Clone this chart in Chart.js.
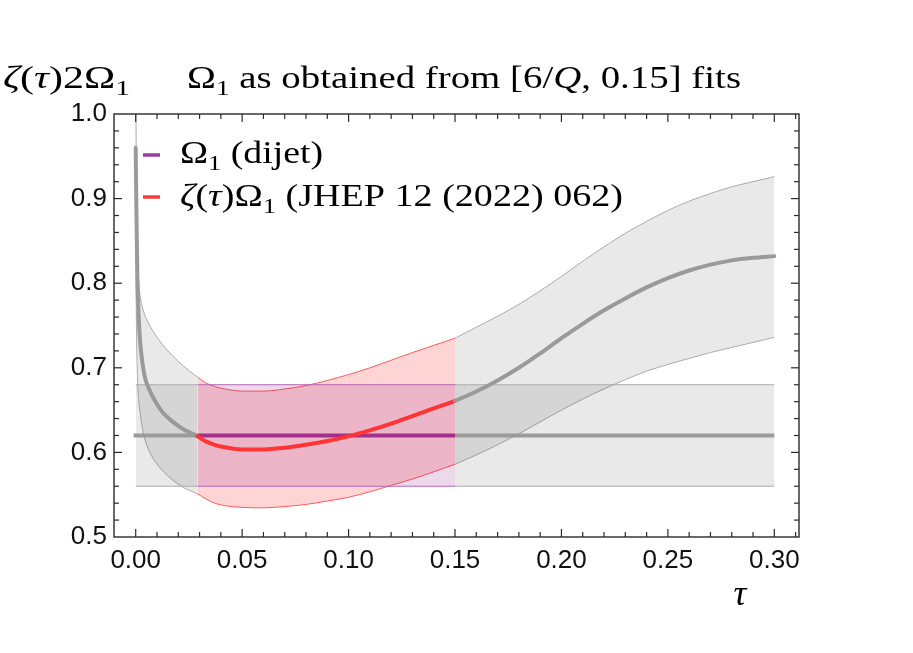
<!DOCTYPE html>
<html>
<head>
<meta charset="utf-8">
<script src="https://cdn.jsdelivr.net/npm/chart.js@4.4.1/dist/chart.umd.min.js"></script>
<style>
  html, body { margin: 0; padding: 0; background: #fff; }
</style>
</head>
<body>
<canvas id="chart" width="913" height="653"></canvas>
<script>
// axis ticks
const xTickVals = [0, 0.05, 0.10, 0.15, 0.20, 0.25, 0.30];
const yTickVals = [0.5, 0.6, 0.7, 0.8, 0.9, 1.0];

// zeta(tau) 2 Omega_1, small tau (before fit range)
const tauEarly = [0, 0.0003, 0.0008, 0.0015, 0.0022, 0.0032, 0.0045, 0.007, 0.0095, 0.0124, 0.017, 0.022];
const midEarly = [0.96, 0.89, 0.805, 0.755, 0.727, 0.705, 0.687, 0.671, 0.659, 0.648, 0.637, 0.628];
const upEarly  = [1.08, 0.92, 0.845, 0.799, 0.783, 0.771, 0.761, 0.748, 0.738, 0.728, 0.715, 0.703];
const loEarly  = [0.85, 0.76, 0.69, 0.66, 0.645, 0.628, 0.614, 0.598, 0.588, 0.579, 0.568, 0.559];

// fit range [6/Q, 0.15]
const tauFit = [0.029, 0.033, 0.037, 0.042, 0.05, 0.06, 0.07, 0.08, 0.09, 0.10, 0.11, 0.12, 0.13, 0.14, 0.15];
const midFit = [0.619, 0.613, 0.609, 0.606, 0.6035, 0.6035, 0.6055, 0.609, 0.6135, 0.619, 0.626, 0.634, 0.643, 0.652, 0.661];
const upFit  = [0.689, 0.682, 0.678, 0.675, 0.6725, 0.6725, 0.675, 0.679, 0.685, 0.692, 0.700, 0.709, 0.718, 0.7265, 0.735];
const loFit  = [0.551, 0.545, 0.540, 0.537, 0.535, 0.5345, 0.536, 0.5385, 0.5425, 0.547, 0.5535, 0.561, 0.5685, 0.577, 0.586];

// after fit range
const tauLate = [0.16, 0.17, 0.18, 0.19, 0.20, 0.21, 0.22, 0.23, 0.24, 0.25, 0.26, 0.27, 0.28, 0.29, 0.30];
const midLate = [0.672, 0.685, 0.700, 0.717, 0.735, 0.752, 0.768, 0.782, 0.795, 0.806, 0.815, 0.822, 0.827, 0.830, 0.832];
const upLate  = [0.748, 0.761, 0.775, 0.791, 0.808, 0.826, 0.843, 0.859, 0.873, 0.886, 0.897, 0.906, 0.914, 0.920, 0.926];
const loLate  = [0.597, 0.609, 0.622, 0.636, 0.650, 0.663, 0.675, 0.686, 0.696, 0.704, 0.711, 0.718, 0.724, 0.730, 0.736];

// Omega_1 (dijet)
const omega1 = 0.62;
const omega1Lo = 0.56;
const omega1Hi = 0.68;
const omegaTau = [-0.001, 0.029, 0.15, 0.30];

const fitLo = tauFit[0], fitHi = tauFit[tauFit.length - 1];
const GRAY_FILL = "rgba(0,0,0,0.085)";
const GRAY_EDGE = "#ababab";

const pts = (xs, ys) => xs.map((x, i) => ({ x, y: ys[i] }));
const inFit = (c) => c.p0.parsed.x >= fitLo - 1e-9 && c.p1.parsed.x <= fitHi + 1e-9;

function edge(data, color, order, extra) {
    return Object.assign({ data, borderColor: color, borderWidth: 1, pointRadius: 0, fill: false,
        cubicInterpolationMode: "monotone", order, clip: 0 }, extra || {});
}

const earlyT = tauEarly.concat([fitLo]);
const lateT = [fitHi].concat(tauLate);

const datasets = [
    // zeta band, outside the fit range
    edge(pts(earlyT, upEarly.concat([upFit[0]])), GRAY_EDGE, 100, { fill: "+1", backgroundColor: GRAY_FILL }),
    edge(pts(earlyT, loEarly.concat([loFit[0]])), GRAY_EDGE, 99),
    edge(pts(lateT, [upFit[upFit.length - 1]].concat(upLate)), GRAY_EDGE, 98, { fill: "+1", backgroundColor: GRAY_FILL }),
    edge(pts(lateT, [loFit[loFit.length - 1]].concat(loLate)), GRAY_EDGE, 97),
    // zeta band, fit range
    edge(pts(tauFit, upFit), "#ff5a5a", 90, { fill: "+1", backgroundColor: "rgba(255,0,0,0.17)" }),
    edge(pts(tauFit, loFit), "#ff5a5a", 89),
    // Omega_1 band
    edge(pts([0, fitLo], [omega1Hi, omega1Hi]), GRAY_EDGE, 80, { fill: { value: omega1Lo }, backgroundColor: GRAY_FILL }),
    edge(pts([0, fitLo], [omega1Lo, omega1Lo]), GRAY_EDGE, 79),
    edge(pts([fitHi, 0.30], [omega1Hi, omega1Hi]), GRAY_EDGE, 78, { fill: { value: omega1Lo }, backgroundColor: GRAY_FILL }),
    edge(pts([fitHi, 0.30], [omega1Lo, omega1Lo]), GRAY_EDGE, 77),
    edge(pts([fitLo, fitHi], [omega1Hi, omega1Hi]), "#b565b5", 76, { fill: { value: omega1Lo }, backgroundColor: "rgba(128,0,128,0.15)" }),
    edge(pts([fitLo, fitHi], [omega1Lo, omega1Lo]), "#b565b5", 75),
    // Omega_1 central line
    edge(pts(omegaTau, omegaTau.map(() => omega1)), "#9a9a9a", 60, {
        borderWidth: 4, segment: { borderColor: (c) => (inFit(c) ? "#a3308a" : "#9a9a9a") },
    }),
    // zeta(tau) central curve
    edge(pts(tauEarly.concat(tauFit, tauLate), midEarly.concat(midFit, midLate)), "#9a9a9a", 50, {
        borderWidth: 4, borderCapStyle: "round", segment: { borderColor: (c) => (inFit(c) ? "#ff3535" : "#9a9a9a") },
    }),
];

function drawRich(ctx, parts, x, y, size, width) {
    const font = (st) => `${st === "i" ? "italic " : ""}${st === "sub" ? size * 0.7 : size}px "Liberation Serif"`;
    let total = 0;
    for (const [t, st] of parts) { ctx.font = font(st); total += ctx.measureText(t).width; }
    ctx.save();
    ctx.translate(x, y);
    if (width) ctx.scale(width / total, 1);
    let cx = 0;
    for (const [t, st] of parts) {
        ctx.font = font(st);
        ctx.fillText(t, cx, st === "sub" ? size * 0.22 : 0);
        cx += ctx.measureText(t).width;
    }
    ctx.restore();
}

const decor = {
    id: "decor",
    afterDraw(chart) {
        const { ctx, chartArea: a, scales } = chart;
        const x = scales.x, y = scales.y;
        ctx.save();
        ctx.strokeStyle = "#2a2a2a";
        ctx.lineWidth = 1.4;
        ctx.strokeRect(a.left, a.top, a.right - a.left, a.bottom - a.top);
        ctx.lineWidth = 1.2;
        const tick = (px, py, dx, dy) => { ctx.beginPath(); ctx.moveTo(px, py); ctx.lineTo(px + dx, py + dy); ctx.stroke(); };
        for (let i = -1; i <= 32; i++) {
            const px = x.getPixelForValue(i / 100);
            if (px < a.left + 2 || px > a.right - 2) continue;
            const len = i % 5 === 0 ? 8 : 5;
            tick(px, a.bottom, 0, -len);
            tick(px, a.top, 0, len);
        }
        for (let i = 25; i <= 50; i++) {
            const py = y.getPixelForValue(i / 50);
            if (py < a.top + 2 || py > a.bottom - 2) continue;
            const len = i % 5 === 0 ? 8 : 5;
            tick(a.left, py, len, 0);
            tick(a.right, py, -len, 0);
        }

        ctx.fillStyle = "#000";
        ctx.textBaseline = "alphabetic";
        drawRich(ctx, [["ζ", "i"], ["(", "n"], ["τ", "i"], [")2Ω", "n"], ["1", "sub"]], 3, 88, 31, 127);
        drawRich(ctx, [["Ω", "n"], ["1", "sub"], [" as obtained from [6/", "n"], ["Q", "i"], [", 0.15] fits", "n"]], 187, 88, 31, 554);

        // legend
        ctx.lineWidth = 3.5;
        ctx.strokeStyle = "#9b3c9f";
        tick(143, 155, 17, 0);
        ctx.strokeStyle = "#ff3c3c";
        tick(143, 197, 17, 0);
        drawRich(ctx, [["Ω", "n"], ["1", "sub"], [" (dijet)", "n"]], 180, 163, 31, 143);
        drawRich(ctx, [["ζ", "i"], ["(", "n"], ["τ", "i"], [")Ω", "n"], ["1", "sub"], [" (JHEP 12 (2022) 062)", "n"]], 180, 206, 31, 443);

        ctx.font = 'italic 36px "Liberation Serif"';
        ctx.textAlign = "center";
        ctx.fillText("τ", 740, 605);
        ctx.restore();
    },
};

new Chart(document.getElementById("chart"), {
    type: "line",
    data: { datasets },
    options: {
        responsive: false,
        devicePixelRatio: 1,
        animation: false,
        layout: { padding: { top: 114, right: 114, bottom: 0, left: 0 } },
        plugins: { legend: { display: false }, tooltip: { enabled: false } },
        scales: {
            x: {
                type: "linear", min: -0.0102, max: 0.3116,
                grid: { display: false, drawTicks: false }, border: { display: false },
                afterBuildTicks: (s) => { s.ticks = xTickVals.map((v) => ({ value: v })); },
                afterFit: (s) => { s.height = 116; },
                ticks: { padding: 8, color: "#111", maxRotation: 0, autoSkip: false,
                    font: { family: "Liberation Sans", size: 26 }, callback: (v) => Number(v).toFixed(2) },
            },
            y: {
                type: "linear", min: 0.5, max: 1.0,
                grid: { display: false, drawTicks: false }, border: { display: false },
                afterBuildTicks: (s) => { s.ticks = yTickVals.map((v) => ({ value: v })); },
                afterFit: (s) => { s.width = 114; },
                ticks: { padding: 7, color: "#111", autoSkip: false,
                    font: { family: "Liberation Sans", size: 26 }, callback: (v) => Number(v).toFixed(1) },
            },
        },
    },
    plugins: [decor],
});
</script>
</body>
</html>
